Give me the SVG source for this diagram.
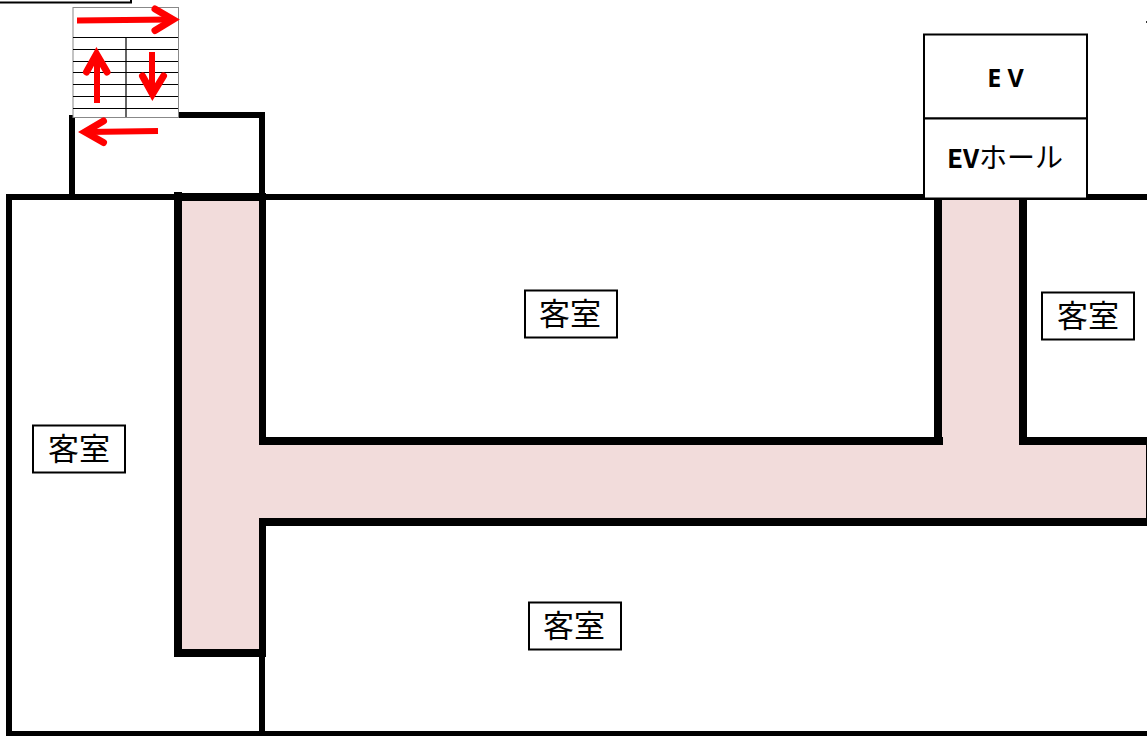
<svg xmlns="http://www.w3.org/2000/svg" width="1147" height="736" viewBox="0 0 1147 736">
<style>
.wall{fill:#000}
.fill{fill:#f2dcdb}
.lab{fill:#fff;stroke:#000;stroke-width:2}
.t{font-family:"Noto Sans CJK JP","Noto Sans",sans-serif;font-size:31px;fill:#000;text-anchor:middle}
.b{font-family:"Noto Sans CJK JP","Open Sans",sans-serif;font-size:28px;font-weight:400;fill:#000;text-anchor:middle}
.ev{font-family:"Open Sans",sans-serif;font-size:25px;font-weight:700}
.evb{font-size:26px;font-weight:700}
.stair{stroke:#000;stroke-width:1.2;fill:none}
.shafta{stroke:#f00;stroke-width:6;fill:none}
.head{stroke:#f00;stroke-width:7;fill:none;stroke-linecap:round;stroke-linejoin:miter}
.shaft{fill:#fff;stroke:#000;stroke-width:2}
</style>
<rect width="1147" height="736" fill="#fff"/>
<g id="corridor">
<rect class="fill" x="180" y="199" width="80" height="452"/>
<rect class="fill" x="258" y="442" width="889" height="78"/>
<rect class="fill" x="941" y="199" width="80" height="247"/>
</g>
<g id="walls">
<rect class="wall" x="6" y="194" width="1141" height="6"/>
<rect class="wall" x="174" y="193" width="92" height="8"/>
<rect class="wall" x="6" y="194" width="6" height="542"/>
<rect class="wall" x="6" y="731" width="1141" height="5"/>
<rect class="wall" x="259" y="654" width="6" height="80"/>
<rect class="wall" x="69" y="115" width="6" height="81"/>
<rect class="wall" x="177" y="112" width="88" height="6"/>
<rect class="wall" x="259" y="112" width="6" height="85"/>
<rect class="wall" x="174" y="192" width="8" height="465"/>
<rect class="wall" x="174" y="649" width="92" height="8"/>
<rect class="wall" x="259" y="197" width="7" height="248"/>
<rect class="wall" x="259" y="518" width="7" height="139"/>
<rect class="wall" x="259" y="437" width="684" height="8"/>
<rect class="wall" x="1019" y="437" width="128" height="8"/>
<rect class="wall" x="259" y="518" width="888" height="8"/>
<rect class="wall" x="934" y="198" width="8" height="247"/>
<rect class="wall" x="1019" y="198" width="8" height="247"/>
<rect class="fill" x="943" y="437" width="76" height="9"/>
<rect class="wall" x="1146" y="444" width="1" height="74"/>
</g>
<g id="label-box-top">
<path d="M0 2.500H131V0" fill="none" stroke="#000" stroke-width="2"/>
</g>
<g id="stairs">
<rect x="73" y="7.500" width="105.500" height="110" fill="#fff" stroke="#888" stroke-width="1"/>
<path class="stair" d="M73 37.500H178M73 49.500H178M73 61.500H178M73 72.500H178M73 84.500H178M73 96.500H178M73 108.500H178M126 37.500V117"/>
</g>
<g id="stair-arrows">
<path class="shafta" d="M77 20.500L172 19.500"/>
<path class="head" d="M155 9L173 19.500L155 30.500"/>
<path class="shafta" d="M97 103V56"/>
<path class="head" d="M86.500 72L96.500 54L107 72"/>
<path class="shafta" d="M152 52V92"/>
<path class="head" d="M142.500 76L152.500 94L163.500 76"/>
<path class="shafta" d="M158 131L88 132"/>
<path class="head" d="M103.500 121L85 132L103.500 142.500"/>
</g>
<g id="ev">
<rect class="shaft" x="924" y="34.500" width="163" height="84"/>
<text class="b ev" x="1005.500" y="87">E V</text>
</g>
<g id="ev-hall">
<rect class="shaft" x="924" y="118.500" width="163" height="80"/>
<text class="b" x="1005" y="168"><tspan class="evb">EV</tspan>ホール</text>
</g>
<g id="room-1">
<rect class="lab" x="525" y="290.500" width="92" height="47"/>
<text class="t" x="570" y="325">客室</text>
</g>
<g id="room-2">
<rect class="lab" x="1042" y="292.500" width="92" height="47"/>
<text class="t" x="1088" y="327">客室</text>
</g>
<g id="room-3">
<rect class="lab" x="33" y="425.500" width="92" height="47"/>
<text class="t" x="79" y="460">客室</text>
</g>
<g id="room-4">
<rect class="lab" x="529" y="602.500" width="92" height="47"/>
<text class="t" x="574" y="637">客室</text>
</g>
<rect id="mark" x="1146" y="21" width="1" height="2" fill="#333"/>
</svg>
